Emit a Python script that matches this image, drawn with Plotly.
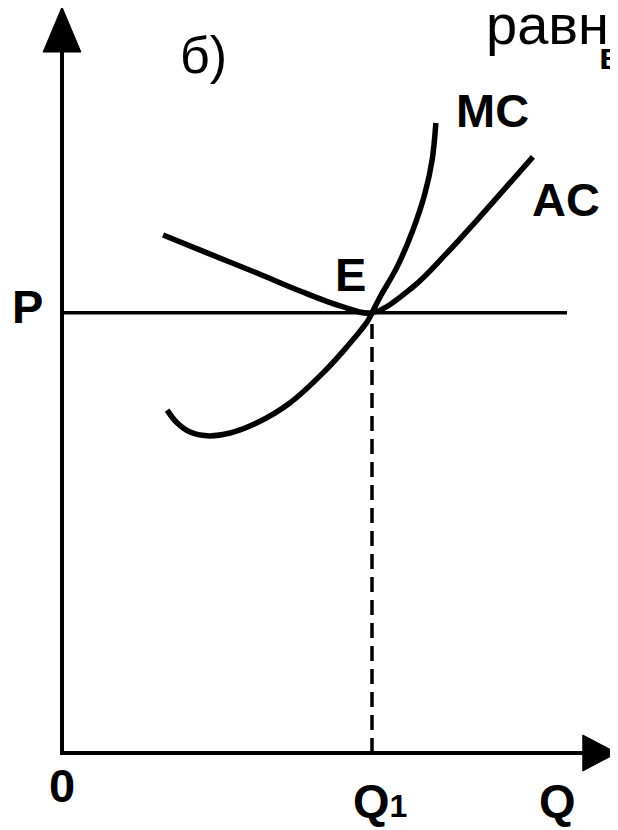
# %%
import plotly.graph_objects as go

# %%
# Cost curves of a competitive firm (long run equilibrium)
q1 = 10.0
price = 14.2

ac_q = [3.26, 4.68, 6.29, 7.68, 8.97, 10.0, 11.32, 12.42, 13.48, 14.45, 15.19]
ac_p = [16.71, 16.13, 15.48, 14.90, 14.42, 14.2, 15.03, 16.13, 17.29, 18.39, 19.23]

mc_q = [3.39, 3.71, 4.13, 4.68, 5.42, 6.29, 7.35, 8.42, 9.19, 9.84, 10.0, 10.26, 10.81, 11.32, 11.71, 11.94, 12.06]
mc_p = [11.06, 10.65, 10.35, 10.23, 10.32, 10.65, 11.29, 12.26, 13.10, 13.90, 14.2, 14.71, 15.68, 16.87, 18.06, 19.13, 20.32]

price_line_end = 16.29
q_axis_end = 17.9
p_axis_end = 24.06

# %%
fig = go.Figure()

line = dict(color='black', width=5.5)

fig.add_trace(go.Scatter(x=ac_q, y=ac_p, mode='lines', line=dict(line, shape='spline'), name='AC'))
fig.add_trace(go.Scatter(x=mc_q, y=mc_p, mode='lines', line=dict(line, shape='spline'), name='MC'))

# price line and Q1 drop
fig.add_trace(go.Scatter(x=[0, price_line_end], y=[price, price], mode='lines',
                         line=dict(color='black', width=3.5)))
fig.add_trace(go.Scatter(x=[q1, q1], y=[0, price], mode='lines',
                         line=dict(color='black', width=3.5, dash='15px,8px')))

# axes with arrow heads
fig.add_trace(go.Scatter(x=[0, 0, q_axis_end - 1.0], y=[p_axis_end - 1.4, 0, 0], mode='lines',
                         line=dict(color='black', width=4)))
fig.add_trace(go.Scatter(x=[-0.61, 0.61, 0, -0.61], y=[p_axis_end - 1.45, p_axis_end - 1.45, p_axis_end, p_axis_end - 1.45],
                         mode='lines', fill='toself', fillcolor='black', line=dict(color='black', width=1)))
fig.add_trace(go.Scatter(x=[q_axis_end - 1.1, q_axis_end - 1.1, q_axis_end, q_axis_end - 1.1], y=[-0.58, 0.58, 0, -0.58],
                         mode='lines', fill='toself', fillcolor='black', line=dict(color='black', width=1)))

labels = [
    ('б)', 4.55, 22.52, 52, False),
    ('MC', 13.9, 20.74, 47, True),
    ('AC', 16.26, 17.84, 47, True),
    ('E', 9.29, 15.42, 47, True),
    ('P', -1.1, 14.39, 47, True),
    ('0', 0.0, -1.06, 47, True),
    ("Q<span style='font-size:32px'>1</span>", 10.26, -1.52, 47, True),
    ('Q', 15.97, -1.52, 47, True),
]
for text, x, y, size, bold in labels:
    fig.add_annotation(x=x, y=y, text='<b>%s</b>' % text if bold else text, showarrow=False,
                       font=dict(family='Liberation Sans, Arial', size=size, color='black'))

# fragment of the page text above the figure
fig.add_annotation(x=13.6, y=23.5, xanchor='left', text='равн', showarrow=False,
                   font=dict(family='Liberation Sans, Arial', size=56, color='black'))
fig.add_annotation(x=17.25, y=22.45, xanchor='left', text='<b>в</b>', showarrow=False,
                   font=dict(family='Liberation Sans, Arial', size=36, color='black'))

# the page body adds 8px around the figure, so the figure is 8px smaller and axes shifted
fig.update_layout(dict(
    width=610,
    height=822,
    margin=dict(l=0, r=0, t=0, b=0),
    paper_bgcolor='white',
    plot_bgcolor='white',
    showlegend=False,
    xaxis=dict(range=[-1.742, 17.935], visible=False, fixedrange=True),
    yaxis=dict(range=[-2.484, 24.03], visible=False, fixedrange=True),
))

fig.write_html('out.html')
